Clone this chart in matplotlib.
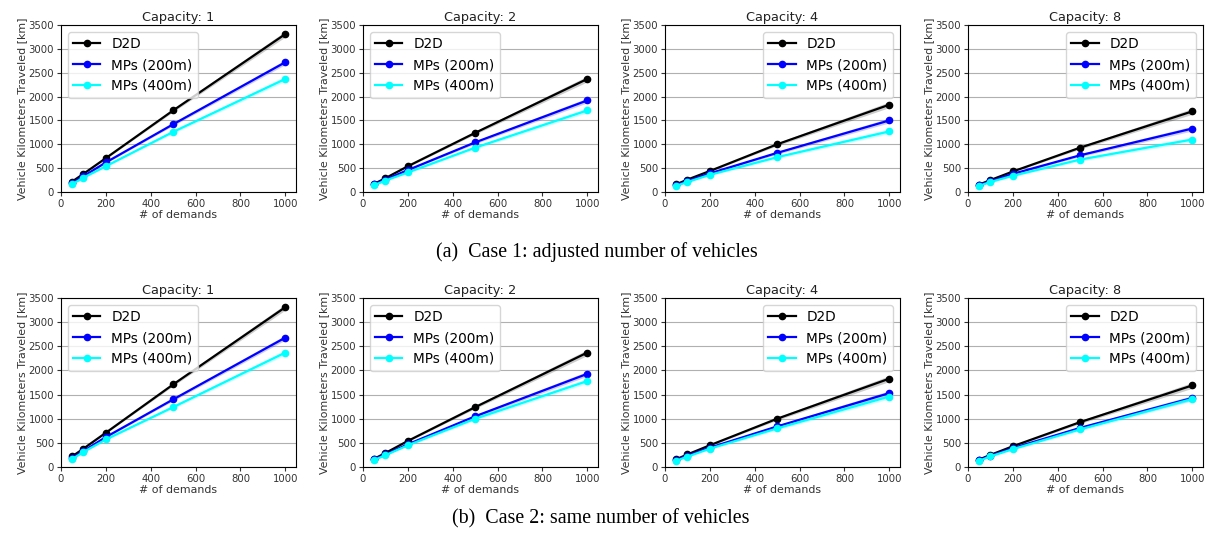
import numpy as np
import matplotlib
matplotlib.use("Agg")
import matplotlib.pyplot as plt

demands = [50, 100, 200, 500, 1000]
capacities = [1, 2, 4, 8]
series_names = ["D2D", "MPs (200m)", "MPs (400m)"]
series_colors = ["black", "blue", "cyan"]

# Case 1: adjusted number of vehicles
case1_d2d = {
    1: [220, 380, 710, 1710, 3310],
    2: [170, 290, 540, 1240, 2370],
    4: [160, 260, 440, 1000, 1830],
    8: [155, 250, 430, 930, 1690],
}
case1_mp200 = {
    1: [190, 330, 620, 1420, 2720],
    2: [160, 260, 460, 1040, 1920],
    4: [145, 230, 390, 820, 1500],
    8: [145, 225, 380, 770, 1330],
}
case1_mp400 = {
    1: [165, 300, 540, 1260, 2370],
    2: [145, 240, 410, 930, 1710],
    4: [130, 210, 360, 730, 1270],
    8: [130, 210, 340, 680, 1100],
}
# Case 2: same number of vehicles
case2_d2d = {
    1: [220, 380, 710, 1710, 3310],
    2: [170, 290, 540, 1240, 2370],
    4: [160, 260, 450, 1000, 1830],
    8: [155, 250, 430, 930, 1690],
}
case2_mp200 = {
    1: [190, 330, 620, 1400, 2680],
    2: [160, 260, 470, 1050, 1930],
    4: [145, 235, 400, 840, 1530],
    8: [145, 235, 390, 810, 1430],
}
case2_mp400 = {
    1: [165, 310, 570, 1240, 2370],
    2: [145, 245, 450, 1000, 1780],
    4: [130, 215, 380, 800, 1460],
    8: [130, 220, 370, 780, 1410],
}
# confidence band half-widths (approximate)
ci_d2d = [5, 8, 15, 30, 60]
ci_mp = [5, 8, 15, 30, 50]

legend_loc = {1: "upper left", 2: "upper left", 4: "upper right", 8: "upper right"}

fig = plt.figure(figsize=(12.08, 5.4), dpi=100)

lefts = [61, 363, 665, 968]
ax_w = 235
rows = [(25, 192), (298, 467)]
W, H = 1208, 540

cases = [(case1_d2d, case1_mp200, case1_mp400), (case2_d2d, case2_mp200, case2_mp400)]
x = np.array(demands)

for r, (top, bot) in enumerate(rows):
    d2d, mp200, mp400 = cases[r]
    for c, cap in enumerate(capacities):
        ax = fig.add_axes([lefts[c] / W, 1 - bot / H, ax_w / W, (bot - top) / H])
        data = [d2d[cap], mp200[cap], mp400[cap]]
        cis = [ci_d2d, ci_mp, ci_mp]
        for name, col, vals, ci in zip(series_names, series_colors, data, cis):
            v = np.array(vals, dtype=float)
            e = np.array(ci, dtype=float)
            ax.fill_between(x, v - e, v + e, color=col, alpha=0.2, linewidth=0)
            ax.plot(x, v, color=col, marker="o", markersize=4.5, linewidth=1.6, label=name)
        ax.set_ylim(0, 3500)
        ax.set_yticks(range(0, 3501, 500))
        ax.set_xticks(range(0, 1001, 200))
        ax.yaxis.grid(True, color="#b0b0b0", linewidth=0.8)
        ax.set_axisbelow(True)
        ax.tick_params(labelsize=7.3, length=3, pad=2, colors="#333333")
        ax.set_title(f"Capacity: {cap}", fontsize=9.3, pad=3, color="#222222")
        ax.set_xlabel("# of demands", fontsize=7.9, labelpad=1, color="#333333")
        ax.set_ylabel("Vehicle Kilometers Traveled [km]", fontsize=7.9, labelpad=1, color="#333333")
        ax.legend(loc=legend_loc[cap], fontsize=9.8, handlelength=2)

fig.text(597 / W, 1 - 252 / H, "(a)  Case 1: adjusted number of vehicles",
         ha="center", va="center", family="Liberation Serif", fontsize=14.4)
fig.text(601 / W, 1 - 519 / H, "(b)  Case 2: same number of vehicles",
         ha="center", va="center", family="Liberation Serif", fontsize=14.4)

fig.savefig("out.png", dpi=100)
